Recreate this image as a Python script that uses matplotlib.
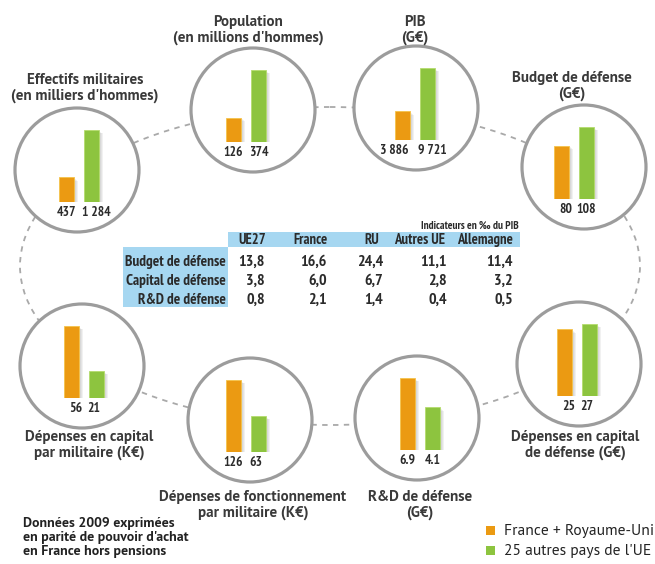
import matplotlib.pyplot as plt
from matplotlib.patches import Circle, Ellipse, Rectangle

W, H = 655, 564
ORANGE = "#EB9A12"
GREEN = "#8DC43F"
TXT = "#2b2b2b"
BLUE = "#A6D7F1"

TITLE_FONT = ["PT Sans", "Lato", "DejaVu Sans"]
NARROW_FONT = ["PT Sans Narrow", "Roboto Condensed", "Liberation Sans Narrow",
               "DejaVu Sans"]

# France + Royaume-Uni vs 25 autres pays, un cercle par indicateur
titles = [
    "Effectifs militaires\n(en milliers d'hommes)",
    "Population\n(en millions d'hommes)",
    "PIB\n(G€)",
    "Budget de défense\n(G€)",
    "Dépenses en capital\nde défense (G€)",
    "R&D de défense\n(G€)",
    "Dépenses de fonctionnement\npar militaire (K€)",
    "Dépenses en capital\npar militaire (K€)",
]
fr_uk = [437, 126, 3886, 80, 25, 6.9, 126, 56]
eu25 = [1284, 374, 9721, 108, 27, 4.1, 63, 21]

# tableau des indicateurs en pour mille du PIB
cols = ["UE27", "France", "RU", "Autres UE", "Allemagne"]
rows = ["Budget de défense", "Capital de défense", "R&D de défense"]
budget = [13.8, 16.6, 24.4, 11.1, 11.4]
capital = [3.8, 6.0, 6.7, 2.8, 3.2]
rnd = [0.8, 2.1, 1.4, 0.4, 0.5]

note = ["Données 2009 exprimées", "en parité de pouvoir d'achat",
        "en France hors pensions"]

# position des cercles (pixels), décalage des barres, position des titres
centers = [(77, 170), (253, 110), (416, 108), (584, 167),
           (579, 364), (417, 418), (250, 420), (82, 366)]
shifts = [2, -7, -1, -10, -2, 3, -4, 2]
title_pos = [(85, 88), (248, 30), (415, 30), (572, 86),
             (575, 445), (420, 505), (253, 505), (89, 445)]
R = 62


def fmt(v):
    if isinstance(v, int):
        return f"{v:,}".replace(",", " ")
    return f"{v:.1f}"


fig = plt.figure(figsize=(W / 100, H / 100), dpi=100)
ax = fig.add_axes([0, 0, 1, 1])
ax.set_xlim(0, W)
ax.set_ylim(H, 0)
ax.axis("off")

# anneau pointillé qui relie les cercles
ax.add_patch(Ellipse((330, 266), 620, 318, fill=False, ec="#a9a9a9",
                     lw=1.3, ls=(0, (3, 3)), zorder=1))

for i, (cx, cy) in enumerate(centers):
    ax.add_patch(Circle((cx, cy), R, fc="white", ec="#9c9c9c", lw=2.3, zorder=2))
    tx, ty = title_pos[i]
    ax.text(tx, ty, titles[i], ha="center", va="center", fontsize=10.8,
            family=TITLE_FONT, weight="bold", color="#3a3a3a",
            linespacing=1.05, zorder=3)

    # petit histogramme dans le cercle
    base = cy + 32
    left = cx + shifts[i] - 30
    sub = fig.add_axes([left / W, 1 - base / H, 60 / W, 72 / H])
    vals = [fr_uk[i], eu25[i]]
    top = max(vals)
    for sh in [0.04, 0.08, 0.12, 0.16]:
        sub.bar([0 + sh, 1 + sh], [v - top * sh * 0.3 for v in vals], 0.6,
                color="#555555", alpha=0.08, zorder=1)
    sub.bar([0, 1], vals, 0.6, color=[ORANGE, GREEN],
            edgecolor=["#f5c34a", "#b5dc6e"], lw=0.6, zorder=2)
    sub.set_xlim(-0.7, 1.7)
    sub.set_ylim(0, top)
    sub.axis("off")
    for k, v in enumerate(vals):
        s = fmt(v)
        nudge = (len(s) - 3) * (-4 if k == 0 else 2.5)
        sub.annotate(s, (k, 0), xytext=(nudge * 0.72, -3),
                     textcoords="offset points", ha="center", va="top",
                     fontsize=9.8, family=NARROW_FONT, weight="bold",
                     color=TXT, annotation_clip=False)

# tableau central
ax.add_patch(Rectangle((228, 232), 292, 15, fc=BLUE, ec="none", zorder=2))
ax.add_patch(Rectangle((123, 247), 105, 60, fc=BLUE, ec="none", zorder=2))
ax.text(519, 226, "Indicateurs en ‰ du PIB", ha="right", va="center",
        fontsize=8, family=NARROW_FONT, weight="bold", color=TXT, zorder=3)

col_right = [265, 327, 383, 447, 513]
col_head = [252, 310, 372, 420, 485]
row_y = [262, 281, 300]
for x, c in zip(col_head, cols):
    ax.text(x, 240, c, ha="center", va="center", fontsize=10.5,
            family=NARROW_FONT, weight="bold", color=TXT, zorder=3)
for y, lab, line in zip(row_y, rows, [budget, capital, rnd]):
    ax.text(226, y, lab, ha="right", va="center", fontsize=11,
            family=NARROW_FONT, weight="bold", color=TXT, zorder=3)
    for x, v in zip(col_right, line):
        ax.text(x, y, f"{v:.1f}".replace(".", ","), ha="right", va="center",
                fontsize=11.5, family=NARROW_FONT, weight="bold", color=TXT,
                zorder=3)

# note et légende
for y, line in zip([523, 537, 551], note):
    ax.text(23, y, line, ha="left", va="center", fontsize=10,
            family=TITLE_FONT, weight="bold", color="#222222")
for y, col, lab in [(531, ORANGE, "France + Royaume-Uni"),
                    (551, GREEN, "25 autres pays de l'UE")]:
    ax.add_patch(Rectangle((486, y - 5), 9, 9, fc=col, ec="none"))
    ax.text(504, y, lab, ha="left", va="center", fontsize=11.2,
            family=TITLE_FONT, color="#222222")

fig.savefig("out.png", dpi=100)
